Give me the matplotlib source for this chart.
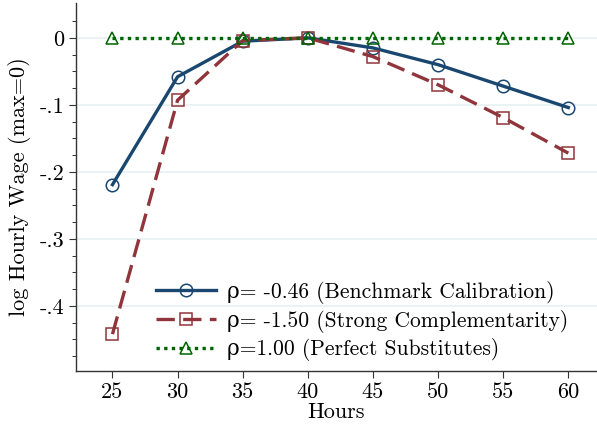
import numpy as np
import matplotlib.pyplot as plt

plt.rcParams['font.family'] = ['cmr10', 'DejaVu Serif']
plt.rcParams['mathtext.fontset'] = 'cm'
plt.rcParams['axes.formatter.use_mathtext'] = True

hours = [25, 30, 35, 40, 45, 50, 55, 60]
bench = [-0.219, -0.058, -0.005, 0.0, -0.015, -0.040, -0.072, -0.104]
strong = [-0.442, -0.093, -0.004, 0.0, -0.028, -0.070, -0.119, -0.172]
subst = [0, 0, 0, 0, 0, 0, 0, 0]

yticks = [0, -0.1, -0.2, -0.3, -0.4]
ylabels = ['0', '-.1', '-.2', '-.3', '-.4']

fig = plt.figure(figsize=(5.97, 4.28), dpi=100)
ax = fig.add_axes([0.1273, 0.1332, 0.8727, 0.8598])

ax.plot(hours, bench, color='#1a476f', lw=2.4, marker='o', ms=9,
        mfc='none', mew=1.1, label='ρ= -0.46 (Benchmark Calibration)')
ax.plot(hours, strong, color='#90353b', lw=2.4, ls=(0, (5.5, 2.5)), marker='s', ms=9,
        mfc='none', mew=1.1, label='ρ= -1.50 (Strong Complementarity)')
ax.plot(hours, subst, color='#006400', lw=2.4, ls=(0, (1, 1.3)), marker='^', ms=9,
        mfc='none', mew=1.1, label='ρ=1.00 (Perfect Substitutes)')

ax.set_xlim(22.2, 62.2)
ax.set_ylim(-0.497, 0.052)
ax.set_xticks(hours)
ax.set_xticklabels([str(h) for h in hours])
ax.set_yticks(yticks)
ax.set_yticklabels(ylabels)
ax.set_yticks(np.arange(-0.475, 0.03, 0.025), minor=True)
ax.tick_params(axis='both', labelsize=16, length=5, width=0.8, color='#333333')
ax.tick_params(axis='y', which='minor', length=3, width=0.7, color='#333333')
ax.grid(axis='y', color='#e8f0f2', lw=1.2)
ax.set_axisbelow(True)
for s in ['top', 'right']:
    ax.spines[s].set_visible(False)
for s in ['left', 'bottom']:
    ax.spines[s].set_color('#333333')
    ax.spines[s].set_linewidth(1.0)

ax.set_xlabel('Hours', fontsize=16, labelpad=0)
ax.set_ylabel('log Hourly Wage (max=0)', fontsize=16, labelpad=6)

ax.legend(loc='lower left', bbox_to_anchor=(0.12, -0.02), frameon=False, fontsize=15.5,
          handlelength=2.8, labelspacing=0.26, handletextpad=0.5, borderpad=0.3)

plt.savefig('out.png', dpi=100)
